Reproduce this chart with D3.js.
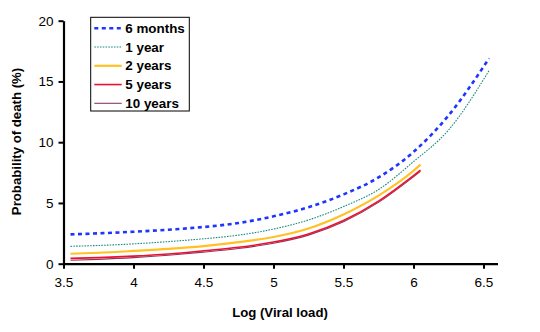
<!DOCTYPE html>
<html><head><meta charset="utf-8">
<script src="https://cdn.jsdelivr.net/npm/d3@7"></script>
<style>body{margin:0;background:#fff}svg{display:block}text{font-family:"Liberation Sans",Arial,sans-serif}</style>
</head><body>
<svg id="c" width="540" height="332"></svg>
<script>
const xLong = [3.55, 3.75, 4.0, 4.25, 4.5, 4.75, 5.0, 5.25, 5.5, 5.75, 6.0, 6.25, 6.54];
const xShort = [3.55, 3.75, 4.0, 4.25, 4.5, 4.75, 5.0, 5.25, 5.5, 5.75, 6.0, 6.05];
const sixMonths = [2.41, 2.5, 2.63, 2.8, 3.02, 3.35, 3.9, 4.65, 5.7, 7.1, 9.2, 12.2, 16.9];
const oneYear   = [1.43, 1.5, 1.63, 1.82, 2.05, 2.35, 2.85, 3.6, 4.7, 6.1, 8.4, 11.0, 15.9];
const twoYears  = [0.82, 0.9, 1.05, 1.22, 1.45, 1.78, 2.2, 2.9, 4.05, 5.6, 7.65, 8.15];
const fiveYears = [0.44, 0.5, 0.62, 0.8, 1.06, 1.35, 1.78, 2.45, 3.55, 5.15, 7.25, 7.7];
const tenYears  = [0.28, 0.36, 0.5, 0.7, 0.95, 1.25, 1.68, 2.35, 3.45, 5.05, 7.15, 7.6];
const seriesNames = ["6 months", "1 year", "2 years", "5 years", "10 years"];
const xTicks = [3.5, 4, 4.5, 5, 5.5, 6, 6.5];
const yTicks = [0, 5, 10, 15, 20];

const styles = [
  {color:"#1f35ff", width:2.6, dash:"4,3.5"},
  {color:"#1a8a80", width:1.1, dash:"1.6,1.2"},
  {color:"#ffc124", width:2.2, dash:null},
  {color:"#ee1030", width:1.6, dash:null},
  {color:"#8a3a60", width:1.1, dash:null}
];
const data = [
  {name:seriesNames[0], xs:xLong, ys:sixMonths},
  {name:seriesNames[1], xs:xLong, ys:oneYear},
  {name:seriesNames[2], xs:xShort, ys:twoYears},
  {name:seriesNames[3], xs:xShort, ys:fiveYears},
  {name:seriesNames[4], xs:xShort, ys:tenYears}
];

const svg = d3.select("#c");
const x = d3.scaleLinear().domain([3.5, 6.6]).range([63.5, 497.5]);
const y = d3.scaleLinear().domain([0, 20]).range([263.7, 20.7]);

const line = d3.line().x(d=>x(d[0])).y(d=>y(d[1])).curve(d3.curveMonotoneX);
[4,3,2,1,0].forEach(i=>{
  const s = data[i], st = styles[i];
  svg.append("path")
    .datum(s.xs.map((v,j)=>[v, s.ys[j]]))
    .attr("d", line)
    .attr("fill","none")
    .attr("stroke", st.color)
    .attr("stroke-width", st.width)
    .attr("stroke-dasharray", st.dash);
});

const xAxis = d3.axisBottom(x).tickValues(xTicks).tickSize(5).tickSizeOuter(0).tickFormat(d3.format("~g"));
const gx = svg.append("g").attr("transform",`translate(0,${y(0)})`).call(xAxis);
const yAxis = d3.axisLeft(y).tickValues(yTicks).tickSize(5).tickSizeOuter(0);
const gy = svg.append("g").attr("transform",`translate(${x(3.5)},0)`).call(yAxis);
[gx, gy].forEach(g=>{
  g.select(".domain").attr("stroke","#000").attr("stroke-width",2.2);
  g.selectAll(".tick line").attr("stroke","#000").attr("stroke-width",2);
  g.selectAll(".tick text").attr("font-size",13.5).attr("fill","#000")
    .style("font-family",'"Liberation Sans",Arial,sans-serif');
});
gx.selectAll(".tick text").attr("dy","0.71em").attr("y",14);
gy.selectAll(".tick text").attr("x",-10);

svg.append("text").attr("x",280).attr("y",317).attr("text-anchor","middle")
  .attr("font-size",13.2).attr("font-weight","bold").text("Log (Viral load)");
svg.append("text").attr("transform","translate(20.5,141.5) rotate(-90)").attr("text-anchor","middle")
  .attr("font-size",13.2).attr("font-weight","bold").text("Probability of death (%)");

const lg = svg.append("g");
lg.append("rect").attr("x",90.7).attr("y",17.3).attr("width",98.6).attr("height",93.7)
  .attr("fill","#fff").attr("stroke","#000").attr("stroke-width",1);
data.forEach((s,i)=>{
  const cy = 28.3 + i*18.75, st = styles[i];
  lg.append("line").attr("x1",94.3).attr("x2",121.7).attr("y1",cy).attr("y2",cy)
    .attr("stroke",st.color).attr("stroke-width",st.width).attr("stroke-dasharray",st.dash);
  lg.append("text").attr("x",125.3).attr("y",cy).attr("dy","0.35em")
    .attr("font-size",13.4).attr("font-weight","bold").text(s.name);
});
</script>
</body></html>
